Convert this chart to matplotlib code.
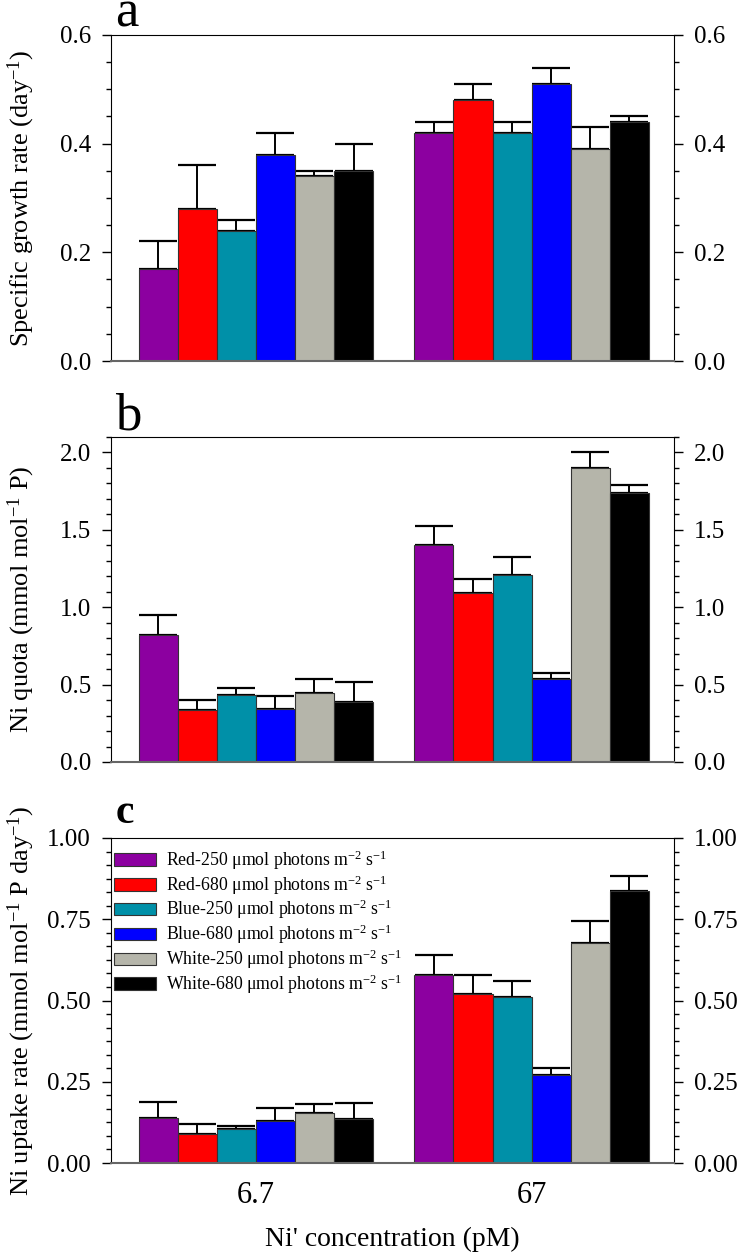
import matplotlib
matplotlib.use('Agg')
import matplotlib.pyplot as plt
from matplotlib.ticker import MultipleLocator
import numpy as np

plt.rcParams['font.family'] = ['Liberation Serif', 'DejaVu Serif']
plt.rcParams['mathtext.fontset'] = 'custom'
plt.rcParams['mathtext.rm'] = 'Liberation Serif'
plt.rcParams['mathtext.it'] = 'Liberation Serif:italic'

# Data
conc_labels = ["6.7", "67"]
treatments = ["Red-250", "Red-680", "Blue-250", "Blue-680", "White-250", "White-680"]
bar_colors = ["#8c00a0", "#ff0000", "#0090a8", "#0000ff", "#b5b5aa", "#000000"]

# rows = treatments, cols = Ni' concentration (6.7, 67)
growth = [[0.17, 0.42], [0.28, 0.48], [0.24, 0.42], [0.38, 0.51], [0.34, 0.39], [0.35, 0.44]]
growth_sd = [[0.05, 0.02], [0.08, 0.03], [0.02, 0.02], [0.04, 0.03], [0.01, 0.04], [0.05, 0.01]]

quota = [[0.82, 1.40], [0.334, 1.09], [0.431, 1.21], [0.341, 0.537], [0.448, 1.90], [0.39, 1.74]]
quota_sd = [[0.13, 0.127], [0.065, 0.092], [0.047, 0.117], [0.088, 0.038], [0.091, 0.103], [0.129, 0.05]]

uptake = [[0.139, 0.58], [0.09, 0.52], [0.104, 0.51], [0.13, 0.27], [0.154, 0.678], [0.135, 0.836]]
uptake_sd = [[0.049, 0.06], [0.031, 0.06], [0.009, 0.05], [0.039, 0.021], [0.028, 0.067], [0.051, 0.048]]

fig = plt.figure(figsize=(7.38, 12.54), dpi=100)

left = 111 / 738.
width = 563 / 738.
ax_a = fig.add_axes([left, 1 - 361 / 1254., width, 326 / 1254.])
ax_b = fig.add_axes([left, 1 - 762 / 1254., width, 325 / 1254.])
ax_c = fig.add_axes([left, 1 - 1163 / 1254., width, 325 / 1254.])

x = np.arange(len(conc_labels))
bw = 0.1416

panels = [
    (ax_a, growth, growth_sd, 'Specific growth rate (day$^{-1}$)', 0.6, 0.2, 0.05, '%.1f'),
    (ax_b, quota, quota_sd, 'Ni quota (mmol mol$^{-1}$ P)', 2.1, 0.5, 0.1, '%.1f'),
    (ax_c, uptake, uptake_sd, 'Ni uptake rate (mmol mol$^{-1}$ P day$^{-1}$)', 1.0, 0.25, 0.25 / 6, '%.2f'),
]

for ax, vals, sds, ylab, ymax, major, minor, fmt in panels:
    for i in range(len(treatments)):
        xpos = x + (i - 2.5) * bw
        v = np.array(vals[i])
        e = np.array(sds[i])
        ax.errorbar(xpos, v, yerr=[np.zeros_like(e), e], fmt='none', ecolor='black',
                    elinewidth=1.4, capsize=13.5, capthick=1.6, zorder=1)
        ax.bar(xpos, v, bw, color=bar_colors[i], edgecolor='0.2', linewidth=0.8,
               label=treatments[i] + ' \u03bcmol photons m$^{-2}$ s$^{-1}$', zorder=2)

    ax.set_xlim(-0.526, 1.517)
    ax.set_ylim(0, ymax)
    ax.yaxis.set_major_locator(MultipleLocator(major))
    ax.yaxis.set_minor_locator(MultipleLocator(minor))
    ax.yaxis.set_major_formatter(matplotlib.ticker.FormatStrFormatter(fmt))
    ax.tick_params(axis='y', which='both', direction='out', left=True, right=True,
                   labelleft=True, labelright=True, labelsize=18, pad=8)
    ax.tick_params(axis='y', which='major', length=6.5, width=1)
    ax.tick_params(axis='y', which='minor', length=3.3, width=1)
    ax.tick_params(axis='x', length=0, labelsize=22, pad=13)
    ax.spines['bottom'].set_color('0.4')
    ax.spines['bottom'].set_linewidth(1.5)
    ax.set_ylabel(ylab, fontsize=19)
    ax.yaxis.set_label_coords(-0.132, 0.5)

# panel letters
ax_a.text(0.008, 1 + 8 / 326., 'a', transform=ax_a.transAxes, fontsize=38, va='baseline', ha='left')
ax_b.text(0.008, 1 + 7 / 325., 'b', transform=ax_b.transAxes, fontsize=38, va='baseline', ha='left')
ax_c.text(0.008, 1 + 15 / 325., 'c', transform=ax_c.transAxes, fontsize=30, fontweight='bold',
          va='baseline', ha='left')

ax_a.set_xticks(x)
ax_a.set_xticklabels([])
ax_b.set_xticks(x)
ax_b.set_xticklabels([])
ax_c.set_xticks(x)
ax_c.set_xticklabels(conc_labels)
ax_c.set_xlabel("Ni' concentration (pM)", fontsize=20, labelpad=12)

ax_c.legend(loc='upper left', bbox_to_anchor=(-0.008, 0.99), frameon=False, fontsize=12.8,
            handlelength=2.4, handleheight=0.7, handletextpad=0.55, labelspacing=0.08,
            borderpad=0.2, borderaxespad=0.2)

plt.savefig('out.png', dpi=100)
